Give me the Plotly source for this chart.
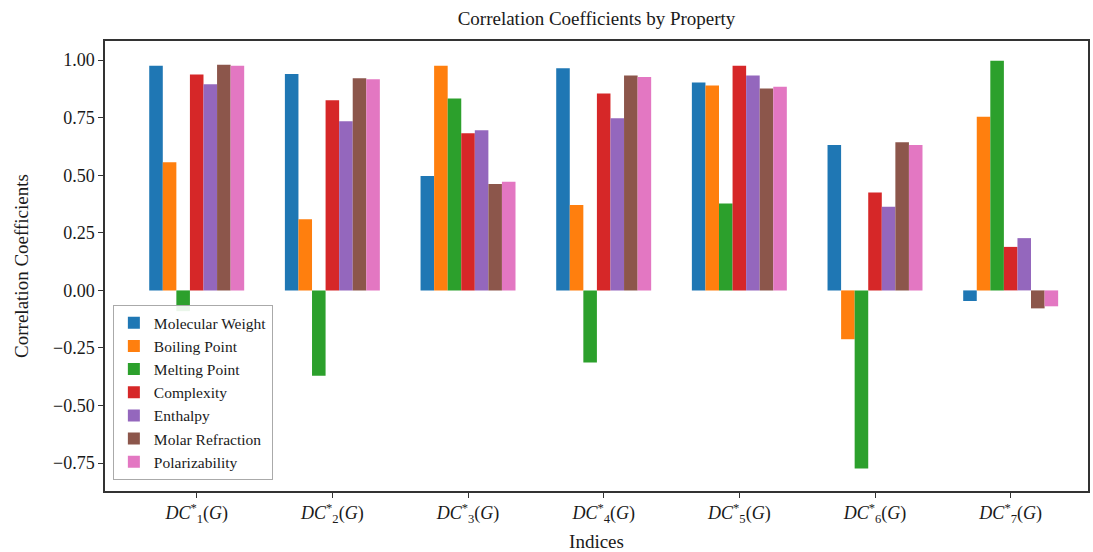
import plotly.graph_objects as go

categories = [f"<i>DC</i><sup>*</sup><sub>{i}</sub>(<i>G</i>)" for i in range(1, 8)]

series_names = ["Molecular Weight", "Boiling Point", "Melting Point", "Complexity",
                "Enthalpy", "Molar Refraction", "Polarizability"]

molecular_weight = [0.975, 0.940, 0.497, 0.965, 0.903, 0.631, -0.046]
boiling_point = [0.556, 0.309, 0.975, 0.371, 0.890, -0.212, 0.754]
melting_point = [-0.090, -0.371, 0.833, -0.313, 0.377, -0.773, 0.997]
complexity = [0.937, 0.826, 0.682, 0.855, 0.975, 0.425, 0.189]
enthalpy = [0.895, 0.734, 0.695, 0.748, 0.933, 0.363, 0.227]
molar_refraction = [0.980, 0.921, 0.462, 0.933, 0.877, 0.643, -0.078]
polarizability = [0.975, 0.917, 0.472, 0.927, 0.884, 0.631, -0.069]

colors = ["#1f77b4", "#ff7f0e", "#2ca02c", "#d62728", "#9467bd", "#8c564b", "#e377c2"]

all_series = [molecular_weight, boiling_point, melting_point, complexity,
              enthalpy, molar_refraction, polarizability]

FONT = "Liberation Serif, Times New Roman, serif"
TXT = "#1a1a1a"

fig = go.Figure()
for name, vals, col in zip(series_names, all_series, colors):
    fig.add_trace(go.Bar(x=categories, y=vals, name=name,
                         marker=dict(color=col, line=dict(width=0))))

fig.update_layout(
    width=1093, height=552,
    barmode="group", bargap=0.3, bargroupgap=0,
    plot_bgcolor="white", paper_bgcolor="white",
    margin=dict(l=105, r=5, t=41, b=61),
    font=dict(family=FONT, size=18, color=TXT),
    title=dict(text="Correlation Coefficients by Property", x=0.5, xref="paper",
               y=1 - 18 / 552, yanchor="middle", font=dict(family=FONT, size=19, color=TXT)),
    legend=dict(x=0.008, y=0.024, xanchor="left", yanchor="bottom",
                bgcolor="rgba(255,255,255,0.9)", bordercolor="#aaa", borderwidth=1,
                font=dict(family=FONT, size=15.5, color=TXT),
                tracegroupgap=0, itemwidth=30),
    xaxis=dict(range=[-0.676, 6.57], showline=True, linecolor="#333", linewidth=1.5,
               mirror=True, ticks="outside", ticklen=5, tickcolor="#333",
               tickfont=dict(family=FONT, size=18, color=TXT), automargin=False,
               title=dict(text="Indices", font=dict(family=FONT, size=19, color=TXT), standoff=14),
               showgrid=False, zeroline=False),
    yaxis=dict(range=[-0.871, 1.083], tickvals=[-0.75, -0.5, -0.25, 0, 0.25, 0.5, 0.75, 1.0],
               tickformat=".2f", showline=True, linecolor="#333", linewidth=1.5,
               mirror=True, ticks="outside", ticklen=5, tickcolor="#333",
               tickfont=dict(family=FONT, size=18, color=TXT), automargin=False,
               title=dict(text="Correlation Coefficients", font=dict(family=FONT, size=19, color=TXT), standoff=19),
               showgrid=False, zeroline=False),
)

fig.write_html("out.html", config={"displayModeBar": False},
               post_script="document.body.style.margin='0';document.body.style.padding='0';")
